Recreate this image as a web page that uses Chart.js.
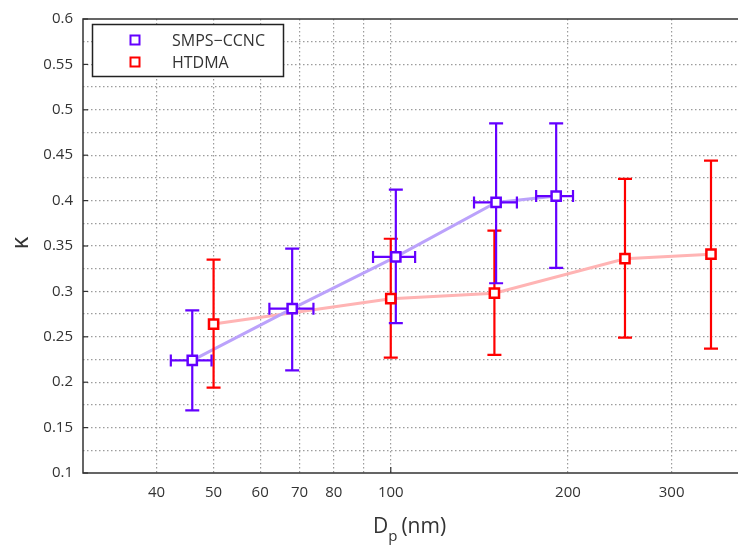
<!DOCTYPE html>
<html>
<head>
<meta charset="utf-8">
<script src="https://cdn.jsdelivr.net/npm/chart.js@4.4.1/dist/chart.umd.min.js"></script>
<style>
  html, body { margin: 0; padding: 0; background: #fff; overflow: hidden; }
  #kappa-chart { display: block; }
</style>
</head>
<body>
<!-- a bit wider than the window: chart.js keeps ~5px free on the right, the plot runs to the window edge -->
<canvas id="kappa-chart" width="747" height="550"></canvas>
<script>
// values
const smpsDp = [46, 68, 102, 151, 191];
const smpsKappa = [0.224, 0.281, 0.338, 0.398, 0.405];
const smpsKappaLow = [0.169, 0.213, 0.265, 0.309, 0.326];
const smpsKappaHigh = [0.279, 0.347, 0.412, 0.485, 0.485];
const smpsDpLow = [42.3, 62.2, 93.3, 138.5, 176.6];
const smpsDpHigh = [49.6, 73.9, 110, 163.8, 204];

const htdmaDp = [50, 100, 150, 250, 350];
const htdmaKappa = [0.264, 0.292, 0.298, 0.336, 0.341];
const htdmaKappaLow = [0.194, 0.227, 0.230, 0.249, 0.237];
const htdmaKappaHigh = [0.335, 0.358, 0.367, 0.424, 0.444];

// the right edge of the plot is cut off by the picture at about 390 nm
const xMin = 30;
const xMax = 389;
const xGridTicks = [30, 40, 50, 60, 70, 80, 90, 100, 200, 300];
const xLabelTicks = [40, 50, 60, 70, 80, 100, 200, 300];
const seriesNames = ["SMPS\u2212CCNC", "HTDMA"];

const purple = "#6400ff";
const red = "#ff0000";
const font = "'Open Sans', 'Noto Sans', sans-serif";
const textColor = "#333";

function toPoints(xs, ys) {
  return xs.map((x, i) => ({ x: x, y: ys[i] }));
}

// error bars, frame, legend and axis titles
const extras = {
  id: "extras",
  afterDatasetDraw(chart, args) {
    if (args.index !== 0) return;
    const ctx = chart.ctx;
    const xs = chart.scales.x;
    const ys = chart.scales.y;
    ctx.save();
    ctx.lineWidth = 2.2;
    ctx.lineCap = "butt";

    function vbar(color, dp, lo, hi) {
      ctx.strokeStyle = color;
      dp.forEach((d, i) => {
        const px = xs.getPixelForValue(d);
        const y1 = ys.getPixelForValue(lo[i]);
        const y2 = ys.getPixelForValue(hi[i]);
        ctx.beginPath();
        ctx.moveTo(px, y1); ctx.lineTo(px, y2);
        ctx.moveTo(px - 7, y1); ctx.lineTo(px + 7, y1);
        ctx.moveTo(px - 7, y2); ctx.lineTo(px + 7, y2);
        ctx.stroke();
      });
    }
    vbar(red, htdmaDp, htdmaKappaLow, htdmaKappaHigh);
    vbar(purple, smpsDp, smpsKappaLow, smpsKappaHigh);

    // horizontal bars for SMPS-CCNC
    ctx.strokeStyle = purple;
    smpsDp.forEach((d, i) => {
      const py = ys.getPixelForValue(smpsKappa[i]);
      const x1 = xs.getPixelForValue(smpsDpLow[i]);
      const x2 = xs.getPixelForValue(smpsDpHigh[i]);
      ctx.beginPath();
      ctx.moveTo(x1, py); ctx.lineTo(x2, py);
      ctx.moveTo(x1, py - 6); ctx.lineTo(x1, py + 6);
      ctx.moveTo(x2, py - 6); ctx.lineTo(x2, py + 6);
      ctx.stroke();
    });
    ctx.restore();
  },
  afterDraw(chart) {
    const ctx = chart.ctx;
    const a = chart.chartArea;
    const ys = chart.scales.y;
    const xs = chart.scales.x;
    ctx.save();

    // frame (left, bottom, top)
    ctx.strokeStyle = "#333";
    ctx.lineWidth = 1.5;
    ctx.beginPath();
    ctx.moveTo(a.right, a.top); ctx.lineTo(a.left, a.top);
    ctx.lineTo(a.left, a.bottom); ctx.lineTo(a.right, a.bottom);
    ctx.stroke();

    // inner tick marks
    ctx.lineWidth = 1.2;
    ys.ticks.forEach(t => {
      if (Math.round(t.value * 1000) % 50 !== 0) return;
      const py = ys.getPixelForValue(t.value);
      ctx.beginPath();
      ctx.moveTo(a.left, py); ctx.lineTo(a.left + 5, py);
      ctx.stroke();
    });
    const p100 = xs.getPixelForValue(100);
    ctx.beginPath();
    ctx.moveTo(p100, a.bottom); ctx.lineTo(p100, a.bottom - 6);
    ctx.stroke();

    // legend
    ctx.fillStyle = "#fff";
    ctx.fillRect(92, 24, 191, 52);
    ctx.strokeStyle = "#222";
    ctx.lineWidth = 1.5;
    ctx.strokeRect(92.5, 24.5, 191, 52);
    [purple, red].forEach((c, i) => {
      const cy = 40 + i * 22;
      ctx.strokeStyle = c;
      ctx.lineWidth = 2;
      ctx.strokeRect(130.5, cy - 4.5, 9, 9);
      ctx.fillStyle = textColor;
      ctx.font = "16px " + font;
      ctx.textBaseline = "middle";
      ctx.textAlign = "left";
      ctx.fillText(seriesNames[i], 172, cy + 1);
    });

    // axis titles
    ctx.fillStyle = textColor;
    ctx.save();
    ctx.translate(21, 243);
    ctx.rotate(-Math.PI / 2);
    ctx.textAlign = "center";
    ctx.textBaseline = "middle";
    ctx.font = "24px " + font;
    ctx.fillText("\u03ba", 0, 0);
    ctx.restore();

    ctx.textBaseline = "alphabetic";
    ctx.textAlign = "left";
    let tx = 373;
    ctx.font = "21px " + font;
    ctx.fillText("D", tx, 533);
    tx += ctx.measureText("D").width;
    ctx.font = "15px " + font;
    ctx.fillText("p", tx, 541);
    tx += ctx.measureText("p").width + 4;
    ctx.font = "21px " + font;
    ctx.fillText("(nm)", tx, 533);

    ctx.restore();
  }
};

const chart = new Chart(document.getElementById("kappa-chart"), {
  type: "scatter",
  data: {
    datasets: [
      {
        label: seriesNames[0] + " line",
        data: toPoints(smpsDp, smpsKappa),
        showLine: true,
        borderColor: "#bba2fb",
        borderWidth: 3,
        pointRadius: 0,
        order: 2,
      },
      {
        label: seriesNames[1] + " line",
        data: toPoints(htdmaDp, htdmaKappa),
        showLine: true,
        borderColor: "#ffb4b4",
        borderWidth: 3,
        pointRadius: 0,
        order: 2,
      },
      {
        label: seriesNames[0],
        data: toPoints(smpsDp, smpsKappa),
        pointStyle: "rect",
        pointRadius: 6.5,
        borderWidth: 2.5,
        borderColor: purple,
        backgroundColor: "#fff",
        order: 1,
      },
      {
        label: seriesNames[1],
        data: toPoints(htdmaDp, htdmaKappa),
        pointStyle: "rect",
        pointRadius: 6.5,
        borderWidth: 2.5,
        borderColor: red,
        backgroundColor: "#fff",
        order: 1,
      },
    ],
  },
  options: {
    responsive: false,
    animation: false,
    events: [],
    layout: { padding: { top: 15, right: 0, left: 0, bottom: 0 } },
    plugins: {
      legend: { display: false },
      tooltip: { enabled: false },
    },
    scales: {
      x: {
        type: "logarithmic",
        min: xMin,
        max: xMax,
        afterBuildTicks: (scale) => {
          scale.ticks = xGridTicks.map(v => ({ value: v }));
        },
        afterFit: (scale) => { scale.height = 77; },
        ticks: {
          autoSkip: false,
          maxRotation: 0,
          padding: 11,
          color: textColor,
          font: { family: font, size: 15 },
          callback: (v) => (xLabelTicks.includes(v) ? String(v) : ""),
        },
        grid: {
          drawTicks: false,
          lineWidth: 1.2,
          color: (c) => (c.tick && c.tick.value === xMin ? "rgba(0,0,0,0)" : "#9c9c9c"),
        },
        border: { display: false, dash: [1.5, 2.5] },
      },
      y: {
        min: 0.1,
        max: 0.6,
        afterFit: (scale) => { scale.width = 83; },
        ticks: {
          stepSize: 0.025,
          padding: 10,
          color: textColor,
          font: { family: font, size: 15 },
          callback: (v) => (Math.round(v * 1000) % 50 === 0 ? String(parseFloat(v.toFixed(2))) : ""),
        },
        grid: {
          drawTicks: false,
          lineWidth: 1.2,
          color: (c) => (c.tick && (Math.abs(c.tick.value - 0.1) < 1e-6 || Math.abs(c.tick.value - 0.6) < 1e-6) ? "rgba(0,0,0,0)" : "#9c9c9c"),
        },
        border: { display: false, dash: [1.5, 2.5] },
      },
    },
  },
  plugins: [extras],
});
</script>
</body>
</html>
